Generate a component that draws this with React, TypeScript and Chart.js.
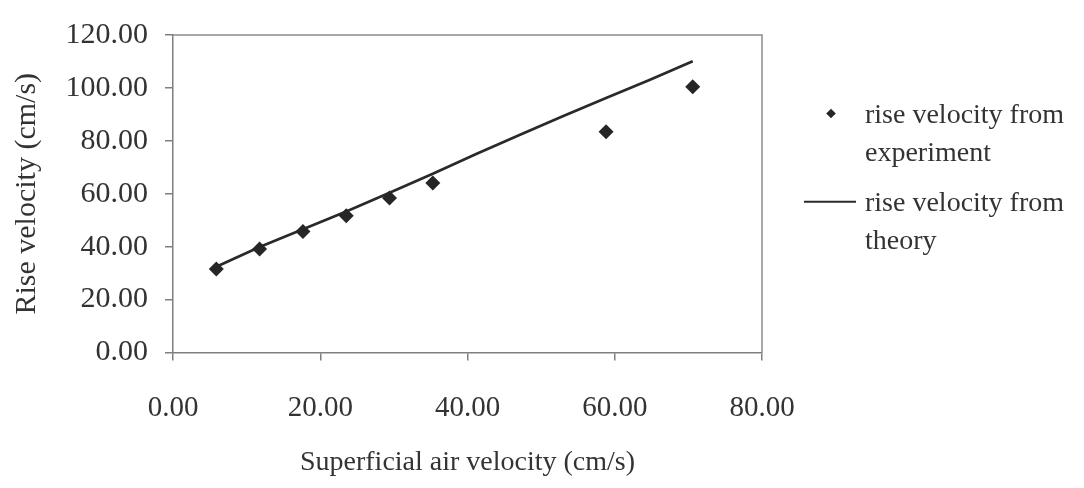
import React, { useEffect, useRef } from "react";
import { Chart, registerables } from "chart.js";

Chart.register(...registerables);

// ---- data ----
const expX = [5.88, 11.76, 17.65, 23.53, 29.41, 35.29, 58.82, 70.59];
const expY = [31.6, 39.1, 45.7, 51.7, 58.4, 64.1, 83.4, 100.4];

const theoryX = [5.88, 11.76, 17.65, 23.53, 29.41, 35.29, 41.18, 47.06, 52.94, 58.82, 64.71, 70.59];
const theoryY = [32.4, 39.9, 46.6, 53.3, 60.4, 67.6, 75.0, 82.2, 89.3, 96.2, 103.0, 110.1];

const xTicks = [0, 20, 40, 60, 80];
const yTicks = [0, 20, 40, 60, 80, 100, 120];

const expLabel = ["rise velocity from", "experiment"];
const theoryLabel = ["rise velocity from", "theory"];
const xTitle = "Superficial air velocity (cm/s)";
const yTitle = "Rise velocity (cm/s)";

// ---- style ----
const FONT = "'Liberation Serif', 'Times New Roman', serif";
const TEXT = "#333333";
const AXIS = "#7f7f7f";
const MARK = "#262626";

const frame = {
  id: "frameBox",
  beforeDatasetsDraw(chart: any) {
    const { ctx, chartArea } = chart;
    ctx.save();
    ctx.strokeStyle = "#8c8c8c";
    ctx.lineWidth = 1.5;
    ctx.beginPath();
    ctx.moveTo(chartArea.left, chartArea.top);
    ctx.lineTo(chartArea.right, chartArea.top);
    ctx.lineTo(chartArea.right, chartArea.bottom);
    ctx.stroke();
    ctx.restore();
  },
};

const legend = {
  id: "sideLegend",
  afterDraw(chart: any) {
    const { ctx } = chart;
    const ds = chart.data.datasets;
    ctx.save();
    ctx.font = `28px ${FONT}`;
    ctx.fillStyle = TEXT;
    ctx.textBaseline = "middle";
    ctx.textAlign = "left";
    // experiment entry
    const mx = 831, my = 113.5, r = 4.8;
    ctx.fillStyle = ds[0].backgroundColor;
    ctx.beginPath();
    ctx.moveTo(mx, my - r);
    ctx.lineTo(mx + r, my);
    ctx.lineTo(mx, my + r);
    ctx.lineTo(mx - r, my);
    ctx.closePath();
    ctx.fill();
    ctx.fillStyle = TEXT;
    (ds[0].label as string).split("\n").forEach((t: string, i: number) => {
      ctx.fillText(t, 865, 116 + i * 38);
    });
    // theory entry
    ctx.strokeStyle = ds[1].borderColor;
    ctx.lineWidth = 2;
    ctx.beginPath();
    ctx.moveTo(804, 201.7);
    ctx.lineTo(856, 201.7);
    ctx.stroke();
    (ds[1].label as string).split("\n").forEach((t: string, i: number) => {
      ctx.fillText(t, 865, 204 + i * 38);
    });
    ctx.restore();
  },
};

export default function App() {
  const ref = useRef<HTMLCanvasElement | null>(null);

  useEffect(() => {
    document.body.style.margin = "0";
    const canvas = ref.current;
    if (!canvas) return;
    const chart = new Chart(canvas, {
      type: "scatter",
      data: {
        datasets: [
          {
            label: expLabel.join("\n"),
            data: expX.map((x, i) => ({ x, y: expY[i] })),
            showLine: false,
            pointStyle: "rectRot",
            pointRadius: 7.5,
            backgroundColor: MARK,
            borderColor: MARK,
            borderWidth: 0,
            order: 0,
          },
          {
            label: theoryLabel.join("\n"),
            data: theoryX.map((x, i) => ({ x, y: theoryY[i] })),
            showLine: true,
            pointRadius: 0,
            borderColor: "#2a2a2a",
            backgroundColor: "#2a2a2a",
            borderWidth: 2.7,
            tension: 0,
            order: 1,
          },
        ],
      },
      options: {
        responsive: false,
        animation: false,
        devicePixelRatio: 1,
        layout: { padding: { left: 0, top: 20, right: 322, bottom: 0 } },
        plugins: {
          legend: { display: false },
          tooltip: { enabled: false },
        },
        scales: {
          x: {
            type: "linear",
            min: 0,
            max: 80,
            afterBuildTicks: (s: any) => {
              s.ticks = xTicks.map((v) => ({ value: v }));
            },
            afterFit: (s: any) => {
              s.height = 135.5;
            },
            grid: {
              display: true,
              drawOnChartArea: false,
              drawTicks: true,
              tickLength: 8,
              color: AXIS,
              lineWidth: 1.5,
            },
            border: { display: true, color: AXIS, width: 1.5 },
            ticks: {
              padding: 30,
              color: TEXT,
              font: { family: FONT, size: 29 },
              maxRotation: 0,
              callback: (v: any) => Number(v).toFixed(2),
            },
            title: {
              display: true,
              text: xTitle,
              color: TEXT,
              font: { family: FONT, size: 28 },
              padding: { top: 0, bottom: 9 },
            },
          },
          y: {
            type: "linear",
            min: 0,
            max: 120,
            afterBuildTicks: (s: any) => {
              s.ticks = yTicks.map((v) => ({ value: v }));
            },
            afterFit: (s: any) => {
              s.width = 173;
            },
            grid: {
              display: true,
              drawOnChartArea: false,
              drawTicks: true,
              tickLength: 8,
              color: AXIS,
              lineWidth: 1.5,
            },
            border: { display: true, color: AXIS, width: 1.5 },
            ticks: {
              padding: 17,
              color: TEXT,
              font: { family: FONT, size: 30 },
              callback: (v: any) => Number(v).toFixed(2),
            },
            title: {
              display: true,
              text: yTitle,
              color: TEXT,
              font: { family: FONT, size: 30 },
              padding: { top: 9, bottom: 0 },
            },
          },
        },
      },
      plugins: [frame, legend],
    });
    return () => chart.destroy();
  }, []);

  return (
    <div style={{ width: 1084, height: 488, background: "#ffffff" }}>
      <canvas ref={ref} width={1084} height={488} style={{ display: "block" }} />
    </div>
  );
}
